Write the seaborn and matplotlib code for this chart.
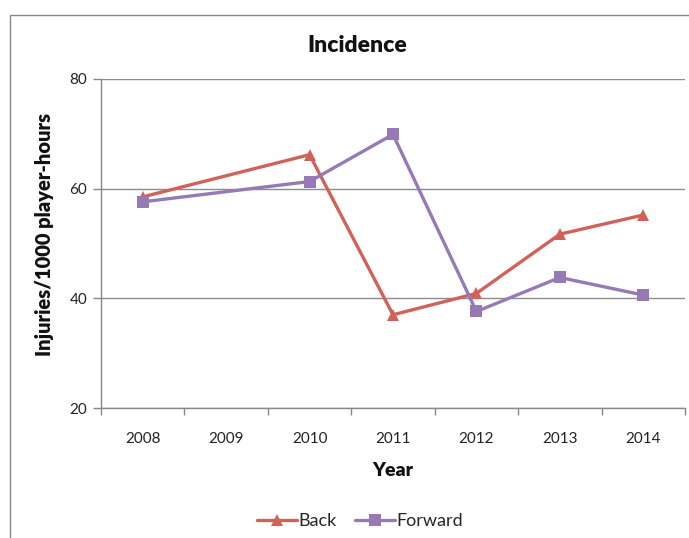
import pandas as pd
import numpy as np
import matplotlib.pyplot as plt
import seaborn as sns
from matplotlib.patches import Rectangle
from matplotlib.ticker import FixedLocator

years = [2008, 2009, 2010, 2011, 2012, 2013, 2014]
back = [58.5, np.nan, 66.2, 37.0, 40.9, 51.7, 55.2]
forward = [57.6, np.nan, 61.3, 69.9, 37.6, 43.8, 40.6]
series_names = ['Back', 'Forward']

df = pd.DataFrame({'Year': years * 2,
                   'value': back + forward,
                   'series': ['Back'] * len(years) + ['Forward'] * len(years)})
df = df.dropna().reset_index(drop=True)

sns.set_theme(style="white")
plt.rcParams['font.family'] = ['Lato', 'DejaVu Sans']

renkler = {'Back': '#D0625A', 'Forward': '#957AB5'}
isaretler = {'Back': '^', 'Forward': 's'}

fig = plt.figure(figsize=(6.89, 5.38), dpi=100)
ax = fig.add_axes([101 / 689, 1 - 408 / 538, 584 / 689, 329 / 538])

sns.lineplot(data=df, x='Year', y='value', hue='series', style='series',
             palette=renkler, markers=isaretler, dashes=False,
             linewidth=2.4, markersize=8.5, markeredgewidth=0,
             ax=ax, legend=False, sort=True)

ax.set_xlim(2007.5, 2014.5)
ax.set_ylim(20, 80)
ax.set_yticks([20, 40, 60, 80])
ax.set_xticks(years)
ax.set_xticklabels([str(y) for y in years])
ax.xaxis.set_minor_locator(FixedLocator(np.arange(2007.5, 2015, 1)))
ax.tick_params(axis='x', which='major', length=0, pad=17, labelsize=11, colors='#222222')
ax.tick_params(axis='x', which='minor', length=5, width=1, color='#888888', direction='out', bottom=True)
ax.tick_params(axis='y', which='major', length=6, width=1, color='#888888', direction='out',
               left=True, pad=4, labelsize=11, labelcolor='#222222')
ax.grid(axis='y', color='#8C8C8C', linewidth=1)
ax.grid(axis='x', visible=False)
for k in ['top', 'right']:
    ax.spines[k].set_visible(False)
for k in ['left', 'bottom']:
    ax.spines[k].set_color('#888888')
    ax.spines[k].set_linewidth(1)
ax.set_xlabel('')
ax.set_ylabel('')

fig.text(357 / 689, 1 - 45 / 538, 'Incidence', ha='center', va='center',
         fontsize=16.5, fontweight='heavy', color='#111111')
fig.text(45 / 689, 1 - 234 / 538, 'Injuries/1000 player-hours', ha='center', va='center',
         rotation=90, fontsize=14.5, fontweight='heavy', color='#111111')
fig.text(393 / 689, 1 - 471 / 538, 'Year', ha='center', va='center',
         fontsize=14, fontweight='heavy', color='#111111')

handles = [plt.Line2D([], [], color=renkler[s], marker=isaretler[s], linewidth=2.4,
                      markersize=8.5, markeredgewidth=0) for s in series_names]
fig.legend(handles, series_names, loc='center', bbox_to_anchor=(360 / 689, 1 - 521 / 538),
           ncol=2, frameon=False, fontsize=13, handlelength=2.2, handletextpad=0.1,
           columnspacing=1.0)

fig.add_artist(Rectangle((10 / 689, -0.1), 1.2, 1 - 15 / 538 + 0.1, transform=fig.transFigure,
                         fill=False, edgecolor='#888888', linewidth=1))

plt.savefig('out.png', dpi=100)
plt.close()
